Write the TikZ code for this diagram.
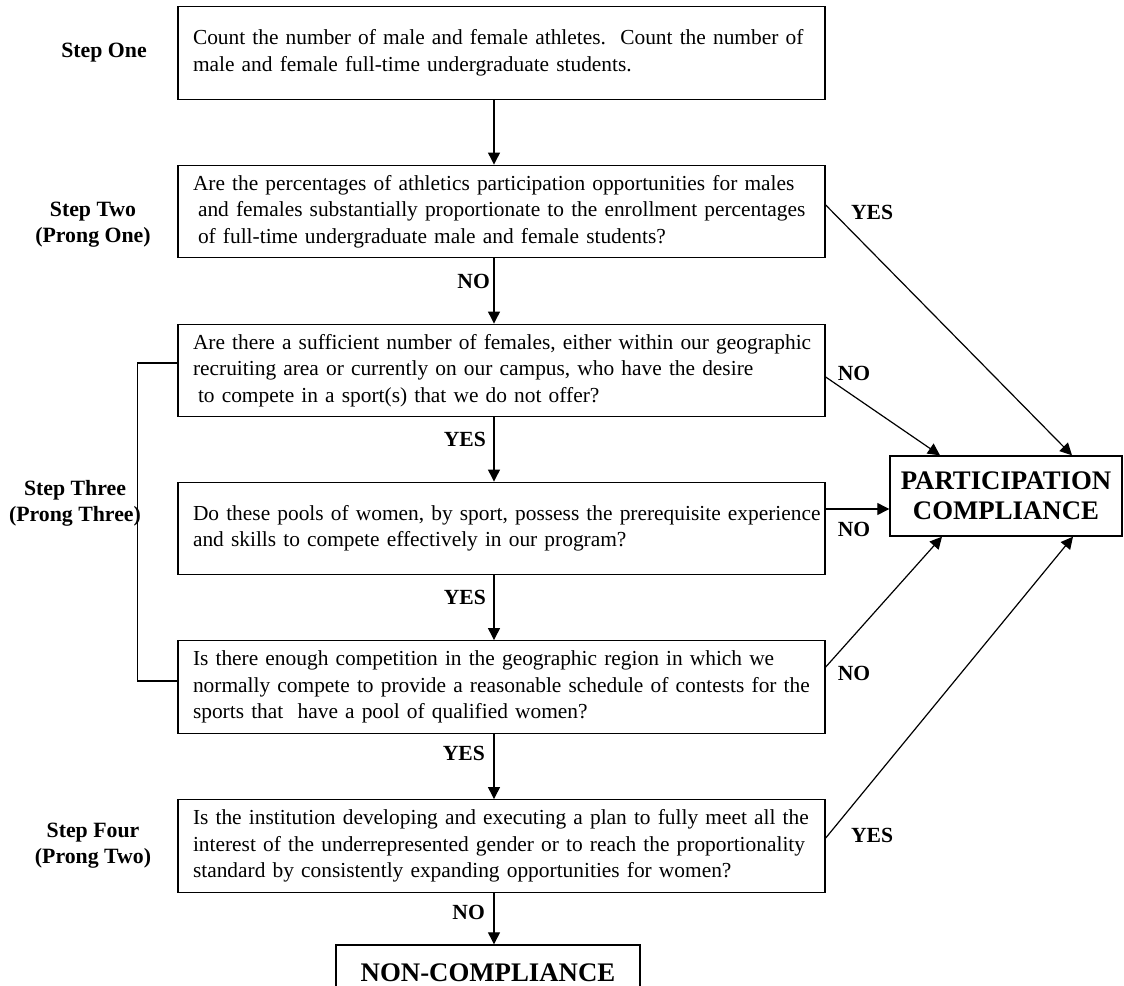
\documentclass[tikz,border=0pt]{standalone}
\usepackage{fontspec}
\setmainfont{Liberation Serif}
\usetikzlibrary{arrows.meta}
\begin{document}
\begin{tikzpicture}[x=1pt,y=-1pt,
  box/.style={draw, line width=1.4pt, text width=617pt, inner xsep=15pt, inner ysep=0pt,
    minimum height=92.5pt, align=left, font=\fontsize{21.4}{26.5}\selectfont},
  bigbox/.style={draw, line width=1.4pt, inner sep=0pt, align=center,
    font=\bfseries\fontsize{26.8}{30}\selectfont},
  lbl/.style={inner sep=0pt, font=\bfseries\fontsize{21.6}{26}\selectfont},
  steplbl/.style={inner sep=0pt, align=center, font=\bfseries\fontsize{21.8}{26}\selectfont},
  arr/.style={line width=1.2pt, -{Triangle[width=12pt,length=12pt]}},
  bracket/.style={line width=1.2pt}]
\useasboundingbox (0,0) rectangle (1124,985);
\fill[white] (0,0) rectangle (1124,985);

% main boxes
\node[box] (b1) at (501.5,53) {\mbox{Count the number of male and female athletes.\ \ Count the number of}\\\mbox{male and female full-time undergraduate students.}};
\node[box] (b2) at (501.5,211.5) {\mbox{Are the percentages of athletics participation opportunities for males}\\\mbox{\hspace{5pt}and females substantially proportionate to the enrollment percentages}\\\mbox{\hspace{5pt}of full-time undergraduate male and female students?}};
\node[box] (b3) at (501.5,370.5) {\mbox{Are there a sufficient number of females, either within our geographic}\\\mbox{recruiting area or currently on our campus, who have the desire}\\\mbox{\hspace{5pt}to compete in a sport(s) that we do not offer?}};
\node[box] (b4) at (501.5,528.5) {\mbox{Do these pools of women, by sport, possess the prerequisite experience}\\\mbox{and skills to compete effectively in our program?}};
\node[box] (b5) at (501.5,687) {\mbox{Is there enough competition in the geographic region in which we}\\\mbox{normally compete to provide a reasonable schedule of contests for the}\\\mbox{sports that\ \ have a pool of qualified women?}};
\node[box] (b6) at (501.5,846) {\mbox{Is the institution developing and executing a plan to fully meet all the}\\\mbox{interest of the underrepresented gender or to reach the proportionality}\\\mbox{standard by consistently expanding opportunities for women?}};

\node[bigbox, minimum width=232pt, minimum height=80pt] (pc) at (1006,496) {PARTICIPATION\\COMPLIANCE};
\node[bigbox, minimum width=304pt, minimum height=55pt] (nc) at (488,972.5) {NON-COMPLIANCE};

% step labels
\node[steplbl] (s1) at (104,53) {Step One};
\node[steplbl] (s2) at (93,225) {Step Two\\(Prong One)};
\node[steplbl] (s3) at (75,503) {Step Three\\(Prong Three)};
\node[steplbl] (s4) at (93,846) {Step Four\\(Prong Two)};

% vertical arrows
\draw[arr] ([xshift=-7.5pt]b1.south) -- ([xshift=-7.5pt]b2.north);
\draw[arr] ([xshift=-7.5pt]b2.south) -- ([xshift=-7.5pt]b3.north);
\draw[arr] ([xshift=-7.5pt]b3.south) -- ([xshift=-7.5pt]b4.north);
\draw[arr] ([xshift=-7.5pt]b4.south) -- ([xshift=-7.5pt]b5.north);
\draw[arr] ([xshift=-7.5pt]b5.south) -- ([xshift=-7.5pt]b6.north);
\draw[arr] ([xshift=-7.5pt]b6.south) -- ([xshift=-7.5pt]b6.south |- nc.north);

% arrows to participation compliance
\draw[arr] ([yshift=6.5pt]b2.east) -- ([xshift=66pt]pc.north);
\draw[arr] ([yshift=-6.5pt]b3.east) -- ([xshift=-66pt]pc.north);
\draw[arr] ([yshift=19.5pt]b4.east) -- ([yshift=19.5pt]b4.east -| pc.west);
\draw[arr] ([yshift=20pt]b5.east) -- ([xshift=-64pt]pc.south);
\draw[arr] ([yshift=8pt]b6.east) -- ([xshift=67pt]pc.south);

% bracket for step three
\draw[bracket] ([yshift=7.5pt]b3.west) -- ++(-40,0) |- ([yshift=6pt]b5.west);

% labels
\node[lbl] (l1) at (872,212) {YES};
\node[lbl] (l2) at (854,373) {NO};
\node[lbl] (l3) at (854,529) {NO};
\node[lbl] (l4) at (854,673) {NO};
\node[lbl] (l5) at (872,835) {YES};
\node[lbl, anchor=east] (l6) at (490,281) {NO};
\node[lbl, anchor=east] (l7) at (486,439) {YES};
\node[lbl, anchor=east] (l8) at (486,597) {YES};
\node[lbl, anchor=east] (l9) at (485,753) {YES};
\node[lbl, anchor=east] (l10) at (485,912) {NO};
\end{tikzpicture}
\end{document}
